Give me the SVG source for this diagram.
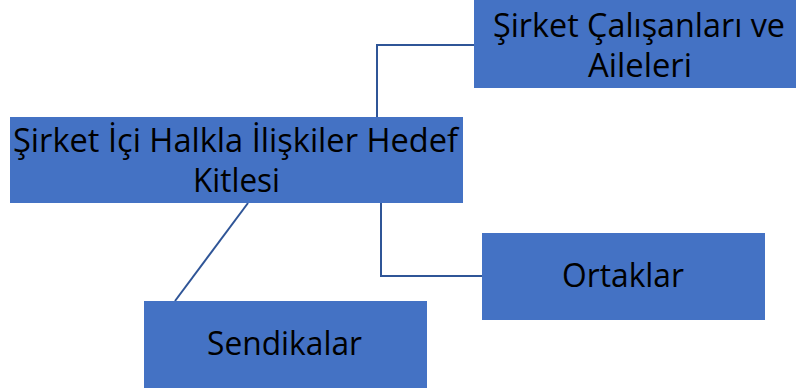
<svg xmlns="http://www.w3.org/2000/svg" width="796" height="391" viewBox="0 0 796 391">
<style>
.box{fill:#4472C4;}
.t{font-family:"Open Sans","Noto Sans",sans-serif;font-size:32px;fill:#000;}
.c{fill:none;stroke:#2F5597;stroke-width:2;}
</style>
<rect width="796" height="391" fill="#fff"/>
<g id="connectors">
<polyline class="c" points="377,117 377,45 474,45"/>
<polyline class="c" points="381,203 381,276 482,276"/>
<line class="c" x1="248" y1="203" x2="175" y2="301"/>
</g>
<g id="main">
<rect class="box" x="10" y="117" width="453" height="86"/>
<text class="t" x="13" y="152" textLength="445" lengthAdjust="spacingAndGlyphs">Şirket İçi Halkla İlişkiler Hedef</text>
<text class="t" x="193" y="192" textLength="87" lengthAdjust="spacingAndGlyphs">Kitlesi</text>
</g>
<g id="calisanlar">
<rect class="box" x="474" y="0" width="322" height="88"/>
<text class="t" x="493" y="37" textLength="292" lengthAdjust="spacingAndGlyphs">Şirket Çalışanları ve</text>
<text class="t" x="588" y="77" textLength="104" lengthAdjust="spacingAndGlyphs">Aileleri</text>
</g>
<g id="ortaklar">
<rect class="box" x="482" y="233" width="283" height="87"/>
<text class="t" x="562" y="287" textLength="122" lengthAdjust="spacingAndGlyphs">Ortaklar</text>
</g>
<g id="sendikalar">
<rect class="box" x="144" y="301" width="283" height="87"/>
<text class="t" x="207" y="355" textLength="155" lengthAdjust="spacingAndGlyphs">Sendikalar</text>
</g>
</svg>
